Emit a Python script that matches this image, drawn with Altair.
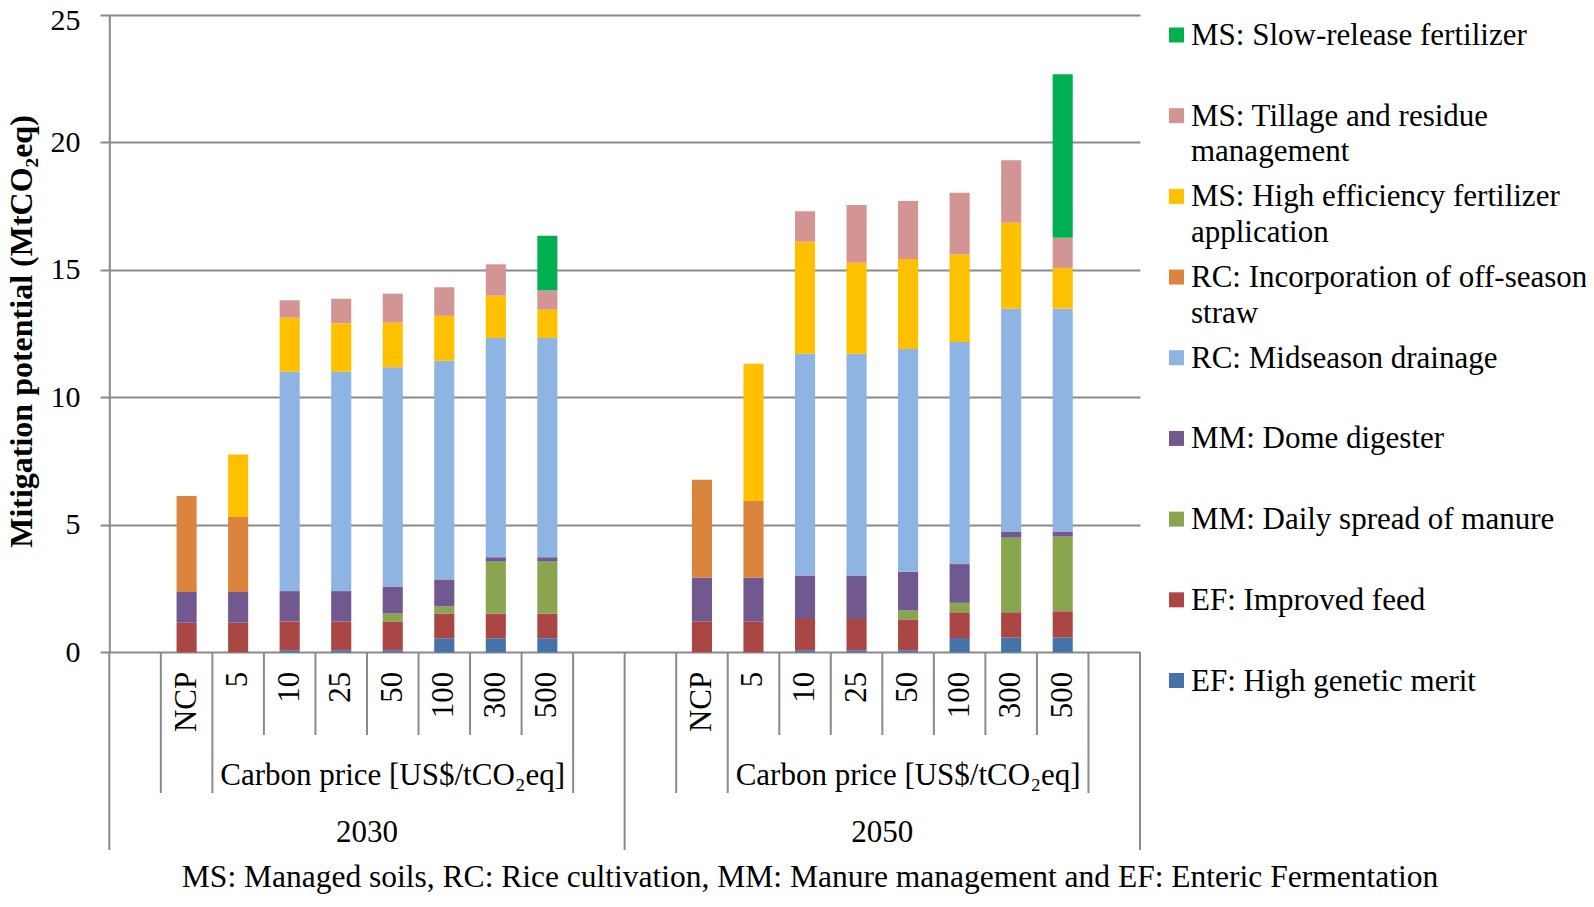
import altair as alt
import pandas as pd

FONT = "Liberation Serif"
GRAY = "#8A8A8A"

# ---------------- data ----------------
years = ["2030", "2050"]
prices = ["NCP", "5", "10", "25", "50", "100", "300", "500"]

# stacking order: bottom -> top
measures = [
    "EF: High genetic merit",
    "EF: Improved feed",
    "MM: Daily spread of manure",
    "MM: Dome digester",
    "RC: Midseason drainage",
    "RC: Incorporation of off-season straw",
    "MS: High efficiency fertilizer application",
    "MS: Tillage and residue management",
    "MS: Slow-release fertilizer",
]
colors = ["#4572A7", "#AA4643", "#89A54E", "#71588F", "#8EB4E3",
          "#DB843D", "#FFC000", "#D39593", "#00B050"]

# legend labels (top -> bottom), with line breaks as in the figure
legend_labels = [
    "MS: Slow-release fertilizer",
    "MS: Tillage and residue\nmanagement",
    "MS: High efficiency fertilizer\napplication",
    "RC: Incorporation of off-season\nstraw",
    "RC: Midseason drainage",
    "MM: Dome digester",
    "MM: Daily spread of manure",
    "EF: Improved feed",
    "EF: High genetic merit",
]
legend_colors = ["#00B050", "#D39593", "#FFC000", "#DB843D", "#8EB4E3",
                 "#71588F", "#89A54E", "#AA4643", "#4572A7"]

# 2030 values (one per carbon price: NCP,5,10,25,50,100,300,500)
hgm_2030    = [0.00, 0.00, 0.08, 0.08, 0.08, 0.55, 0.55, 0.55]
feed_2030   = [1.16, 1.16, 1.13, 1.13, 1.13, 0.97, 0.97, 0.97]
spread_2030 = [0.00, 0.00, 0.00, 0.00, 0.31, 0.28, 2.04, 2.04]
dome_2030   = [1.21, 1.21, 1.19, 1.19, 1.06, 1.06, 0.17, 0.17]
drain_2030  = [0.00, 0.00, 8.61, 8.61, 8.60, 8.58, 8.60, 8.60]
straw_2030  = [3.76, 2.94, 0.00, 0.00, 0.00, 0.00, 0.00, 0.00]
hef_2030    = [0.00, 2.45, 2.12, 1.90, 1.75, 1.76, 1.66, 1.11]
till_2030   = [0.00, 0.00, 0.68, 0.96, 1.14, 1.12, 1.23, 0.75]
slow_2030   = [0.00, 0.00, 0.00, 0.00, 0.00, 0.00, 0.00, 2.15]

# 2050 values
hgm_2050    = [0.00, 0.00, 0.08, 0.08, 0.08, 0.56, 0.58, 0.58]
feed_2050   = [1.21, 1.21, 1.23, 1.23, 1.21, 1.01, 0.99, 1.03]
spread_2050 = [0.00, 0.00, 0.00, 0.00, 0.35, 0.37, 2.93, 2.93]
dome_2050   = [1.72, 1.72, 1.70, 1.70, 1.52, 1.52, 0.22, 0.20]
drain_2050  = [0.00, 0.00, 8.70, 8.70, 8.74, 8.71, 8.76, 8.74]
straw_2050  = [3.84, 3.01, 0.00, 0.00, 0.00, 0.00, 0.00, 0.00]
hef_2050    = [0.00, 5.38, 4.40, 3.57, 3.53, 3.43, 3.37, 1.60]
till_2050   = [0.00, 0.00, 1.19, 2.27, 2.27, 2.43, 2.45, 1.18]
slow_2050   = [0.00, 0.00, 0.00, 0.00, 0.00, 0.00, 0.00, 6.42]

series = {
    "2030": [hgm_2030, feed_2030, spread_2030, dome_2030, drain_2030,
             straw_2030, hef_2030, till_2030, slow_2030],
    "2050": [hgm_2050, feed_2050, spread_2050, dome_2050, drain_2050,
             straw_2050, hef_2050, till_2050, slow_2050],
}

axis_title = "Mitigation potential (MtCO\u2082eq)"
group_label = "Carbon price [US$/tCO\u2082eq]"
footer = ("MS: Managed soils, RC: Rice cultivation, MM: Manure management "
          "and EF: Enteric Fermentation")

# ---------------- tables ----------------
slots = []
for yr in years:
    slots += [f"{yr}|L"] + [f"{yr}|{p}" for p in prices] + [f"{yr}|R"]

rows = []
for yr in years:
    for k, m in enumerate(measures):
        for j, p in enumerate(prices):
            v = series[yr][k][j]
            if v > 0:
                rows.append({"slot": f"{yr}|{p}", "measure": m, "value": v, "rank": k})
df = pd.DataFrame(rows)

W, H = 1030.7, 637.3
xs = alt.Scale(domain=slots, paddingInner=0, paddingOuter=0)
ys = alt.Scale(domain=[0, 25])

bars = alt.Chart(df).mark_bar(width=alt.RelativeBandSize(0.39)).encode(
    x=alt.X("slot:N", scale=xs, axis=None),
    y=alt.Y("value:Q", stack="zero", scale=ys,
            axis=alt.Axis(values=[0, 5, 10, 15, 20, 25], format="d",
                          grid=True, gridColor=GRAY, gridWidth=2,
                          domain=True, domainColor=GRAY, domainWidth=2,
                          ticks=True, tickColor=GRAY, tickWidth=2, tickSize=9.3,
                          labelFont=FONT, labelFontSize=30, labelColor="black",
                          labelPadding=20,
                          labelOffset={"condition": {"test": "datum.value >= 25", "value": 5},
                                       "value": 0},
                          title=axis_title, titleFont=FONT, titleFontSize=32,
                          titleFontWeight="bold", titleColor="black",
                          titleAngle=270, titleX=-87.5, titleY=316,
                          titleAlign="center", titleBaseline="middle")),
    color=alt.Color("measure:N", scale=alt.Scale(domain=measures, range=colors), legend=None),
    order=alt.Order("rank:Q"),
)

# price labels
lab_df = pd.DataFrame({
    "slot": [f"{yr}|{p}" for yr in years for p in prices],
    "label": [p for yr in years for p in prices],
})
price_text = alt.Chart(lab_df).mark_text(
    angle=270, align="right", baseline="middle", font=FONT, fontSize=31, color="black"
).encode(x=alt.X("slot:N", scale=xs, axis=None), y=alt.value(656.7), text="label:N")

# separators
def sep(slot_list, bottom, bp=0):
    return alt.Chart(pd.DataFrame({"slot": slot_list})).mark_rule(
        color=GRAY, strokeWidth=2
    ).encode(x=alt.X("slot:N", scale=xs, axis=None, bandPosition=bp),
             y=alt.value(H), y2=alt.value(bottom))

lvl1 = [f"{yr}|{p}" for yr in years for p in prices[2:]]
lvl2 = [f"{yr}|{p}" for yr in years for p in ["NCP", "5", "R"]]
lvl3 = [f"{yr}|L" for yr in years]
rules = [sep(lvl1, 720), sep(lvl2, 778), sep(lvl3, 835), sep(["2050|R"], 835, bp=1)]

# group labels
grp_df = pd.DataFrame({"slot": [f"{yr}|50" for yr in years], "label": [group_label] * 2})
grp_text = alt.Chart(grp_df).mark_text(
    align="center", baseline="alphabetic", font=FONT, fontSize=31, color="black"
).encode(x=alt.X("slot:N", scale=xs, axis=None), y=alt.value(770), text="label:N")

yr_df = pd.DataFrame({"slot": [f"{yr}|50" for yr in years], "label": years})
yr_text = alt.Chart(yr_df).mark_text(
    align="center", baseline="alphabetic", font=FONT, fontSize=31, color="black"
).encode(x=alt.X("slot:N", scale=xs, axis=None, bandPosition=0), y=alt.value(827),
         text="label:N")

foot = alt.Chart(pd.DataFrame({"t": [footer]})).mark_text(
    align="center", baseline="alphabetic", font=FONT, fontSize=31.5, color="black"
).encode(x=alt.value(700.7), y=alt.value(872), text="t:N")

# legend (manual, to reproduce the wrapped labels)
leg_df = pd.DataFrame({"item": legend_labels, "color": legend_colors})
leg_scale = alt.Scale(type="point", domain=legend_labels, range=[20, 665.5], padding=0)
leg_sq = alt.Chart(leg_df).mark_square(size=225, opacity=1).encode(
    x=alt.value(1067.2),
    y=alt.Y("item:N", scale=leg_scale, axis=None),
    color=alt.Color("color:N", scale=None),
)
leg_tx = alt.Chart(leg_df).mark_text(
    align="left", baseline="top", dy=-14, font=FONT, fontSize=31, color="black",
    lineBreak="\n", lineHeight=35.5
).encode(
    x=alt.value(1081.7),
    y=alt.Y("item:N", scale=leg_scale, axis=None),
    text="item:N",
)

chart = alt.layer(
    bars, *rules, price_text, grp_text, yr_text, foot, leg_sq, leg_tx
).resolve_scale(y="independent", color="independent").properties(
    width=W, height=H,
    autosize=alt.AutoSizeParams(type="none"),
    padding={"left": 101.3, "top": 7, "right": 446, "bottom": 241.7},
).configure_view(stroke=None)

chart.save("out.html", embed_options={"renderer": "svg", "actions": False})
